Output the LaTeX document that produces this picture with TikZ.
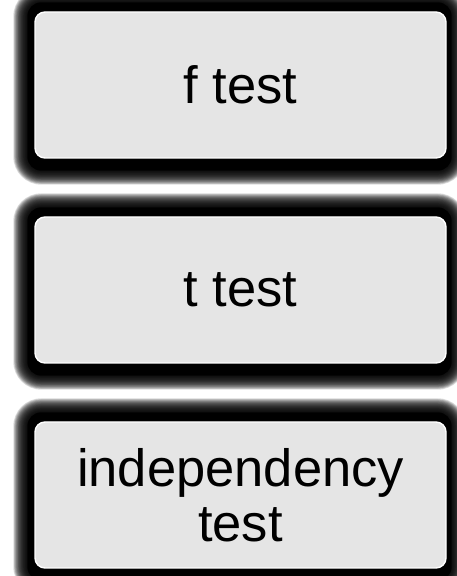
\documentclass[tikz,border=0pt]{standalone}
\usepackage{fontspec}
\setmainfont{Liberation Sans}
\usepackage{tikz}
\usetikzlibrary{calc,backgrounds}
\tikzset{
  testbox/.style={draw=white, line width=1.4pt, fill=black!10, rounded corners=10pt,
    minimum width=411pt, minimum height=146pt, inner sep=0pt, align=center,
    font=\fontsize{52.5}{55}\selectfont},
  halo/.style={fill=black, opacity=0.13},
  halocore/.style={fill=black}
}

\begin{document}
\begin{tikzpicture}[x=1pt,y=1pt]
  \useasboundingbox (0,0) rectangle (457,576);
  \node[testbox] (ftest) at (240.5,491) {f test};
  \node[testbox] (ttest) at (240.5,286) {t test};
  \node[testbox] (indep) at (240.5,81) {independency\\test};

  % dark blurred frame behind every box
  \begin{scope}[on background layer]
    \foreach \nm in {ftest,ttest,indep} {
      \foreach \k in {20,19,...,1} {
        \pgfmathsetmacro\grow{0.7*\k}
        \pgfmathsetmacro\rr{14+\grow}
        \fill[halo, rounded corners=\rr pt] ($(\nm.north west)+(-7-\grow,9+\grow)$)
          rectangle ($(\nm.south east)+(5+\grow,-12-\grow)$);
      }
      \fill[halocore, rounded corners=14pt] ($(\nm.north west)+(-7,9)$)
        rectangle ($(\nm.south east)+(5,-12)$);
    }
  \end{scope}
\end{tikzpicture}
\end{document}
